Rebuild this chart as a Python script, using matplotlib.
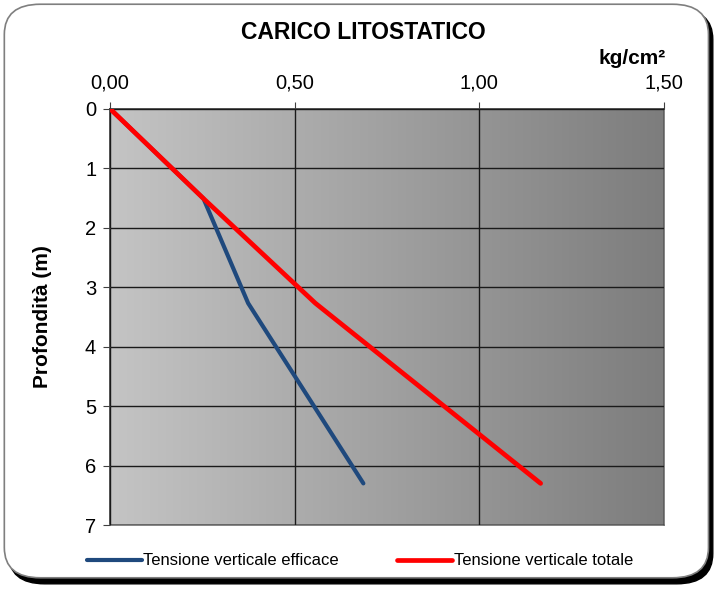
import matplotlib.pyplot as plt
import numpy as np
from matplotlib.patches import FancyBboxPatch
from matplotlib.colors import LinearSegmentedColormap

plt.rcParams['font.family'] = ['Liberation Sans', 'DejaVu Sans']

# Dati
profondita = [0, 1.51, 3.27, 6.30]
tens_efficace = [0, 0.253, 0.374, 0.686]
tens_totale = [0, 0.253, 0.556, 1.166]
x_ticks = [0, 0.5, 1.0, 1.5]
x_labels = ['0,00', '0,50', '1,00', '1,50']
y_ticks = [0, 1, 2, 3, 4, 5, 6, 7]

fig = plt.figure(figsize=(7.2, 6.05), dpi=100)

# Cornice arrotondata con ombra
shadow = FancyBboxPatch((0.012, 0.035), 0.978, 0.95, boxstyle="round,pad=0,rounding_size=0.05",
                        transform=fig.transFigure, facecolor='black', edgecolor='black', zorder=0)
frame = FancyBboxPatch((0.006, 0.045), 0.978, 0.948, boxstyle="round,pad=0,rounding_size=0.05",
                       transform=fig.transFigure, facecolor='white', edgecolor='#7f7f7f', lw=1.2, zorder=1)
fig.patches.extend([shadow, frame])

ax = fig.add_axes([0.1528, 0.1322, 0.7694, 0.6881])
ax.set_zorder(2)

# Sfondo sfumato
grad = np.linspace(0, 1, 256).reshape(1, -1)
cmap = LinearSegmentedColormap.from_list('g', ['#c4c4c4', '#7d7d7d'])
ax.imshow(grad, cmap=cmap, aspect='auto', extent=[0, 1.5, 7, 0], zorder=0)

ax.plot(tens_efficace, profondita, color='#1f497d', lw=3.0, solid_capstyle='round',
        label='Tensione verticale efficace', zorder=3)
ax.plot(tens_totale, profondita, color='#ff0000', lw=3.4, solid_capstyle='round',
        label='Tensione verticale totale', zorder=4)

ax.set_xlim(0, 1.5)
ax.set_ylim(7, 0)
ax.xaxis.tick_top()
ax.set_xticks(x_ticks)
ax.set_xticklabels(x_labels)
ax.set_yticks(y_ticks)
ax.tick_params(axis='both', labelsize=14.5, direction='out', length=5, color='#404040')
ax.tick_params(axis='x', pad=7)
ax.tick_params(axis='y', pad=5)
ax.grid(True, color='#1a1a1a', lw=1)
ax.set_axisbelow(False)
for s in ax.spines.values():
    s.set_color('#6e6e6e')
    s.set_linewidth(1.2)
ax.spines['left'].set_color('#303030')
ax.spines['top'].set_color('#303030')

ax.set_ylabel('Profondità (m)', fontsize=15, fontweight='bold', labelpad=24)
fig.text(0.505, 0.947, 'CARICO LITOSTATICO', ha='center', va='center', fontsize=16.5, fontweight='bold')
fig.text(0.878, 0.903, 'kg/cm²', ha='center', va='center', fontsize=15, fontweight='bold')

fig.legend(loc='center', bbox_to_anchor=(0.5, 0.073), ncol=2, frameon=False, fontsize=12,
           handlelength=3.3, handletextpad=0.1, columnspacing=3.5)

fig.savefig('out.png', dpi=100)
